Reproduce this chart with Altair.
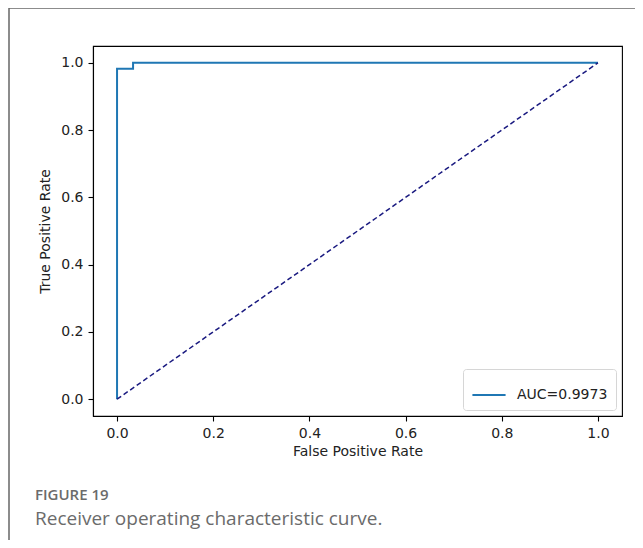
import altair as alt
import pandas as pd

# ROC curve points
fpr = [0.0, 0.0, 0.0333, 0.0333, 1.0]
tpr = [0.0, 0.982, 0.982, 1.0, 1.0]
series_name = "AUC=0.9973"

diag_x = [0.0, 1.0]
diag_y = [0.0, 1.0]

ticks = [0.0, 0.2, 0.4, 0.6, 0.8, 1.0]
fig_label = "FIGURE 19"
fig_caption = "Receiver operating characteristic curve."

roc = pd.DataFrame({"fpr": fpr, "tpr": tpr, "order": list(range(len(fpr))),
                    "series": [series_name] * len(fpr)})
diag = pd.DataFrame({"fpr": diag_x, "tpr": diag_y, "order": [0, 1]})

W, H = 529, 370
xs = alt.Scale(domain=[-0.05, 1.05], nice=False, zero=False)
ys = alt.Scale(domain=[-0.05, 1.05], nice=False, zero=False)

x_axis = alt.Axis(title="False Positive Rate", values=ticks, format=".1f", grid=False)
y_axis = alt.Axis(title="True Positive Rate", values=ticks, format=".1f", grid=False)

curve = alt.Chart(roc).mark_line(strokeWidth=2, interpolate="linear").encode(
    x=alt.X("fpr:Q", scale=xs, axis=x_axis),
    y=alt.Y("tpr:Q", scale=ys, axis=y_axis),
    order="order:Q",
    color=alt.Color("series:N", scale=alt.Scale(domain=[series_name], range=["#1f77b4"]),
                    legend=alt.Legend(title=None, orient="bottom-right", offset=6,
                                      symbolType="stroke", symbolSize=1100,
                                      symbolStrokeWidth=2, labelFontSize=14,
                                      labelFont="DejaVu Sans", labelColor="#222222",
                                      padding=8, strokeColor="#d6d6d6", fillColor="white",
                                      cornerRadius=3, labelOffset=10)),
)

diagonal = alt.Chart(diag).mark_line(strokeWidth=1.5, color="#1a1a80", strokeDash=[5, 3]).encode(
    x=alt.X("fpr:Q", scale=xs),
    y=alt.Y("tpr:Q", scale=ys),
    order="order:Q",
)

cap_df = pd.DataFrame({"label": [fig_label], "caption": [fig_caption]})

label_text = alt.Chart(cap_df).mark_text(align="left", baseline="middle", font="Open Sans",
                                          fontSize=15, fontWeight=600, color="#6b6b6b").encode(
    text="label:N", x=alt.value(-58), y=alt.value(449))
caption_text = alt.Chart(cap_df).mark_text(align="left", baseline="middle", font="Open Sans",
                                            fontSize=19, color="#6b6b6b").encode(
    text="caption:N", x=alt.value(-58), y=alt.value(473))

border_top = alt.Chart(cap_df).mark_rule(color="#666666", strokeWidth=1.5).encode(
    x=alt.value(-84), x2=alt.value(560), y=alt.value(-38))
border_left = alt.Chart(cap_df).mark_rule(color="#666666", strokeWidth=1.5).encode(
    x=alt.value(-84), y=alt.value(-38), y2=alt.value(510))

chart = alt.layer(border_top, border_left, curve, diagonal, label_text, caption_text).properties(
    width=W, height=H,
    autosize=alt.AutoSizeParams(type="none"),
    padding={"left": 85, "top": 38, "right": 13, "bottom": 124},
    background="white",
).configure_view(
    stroke="black", strokeWidth=1.1
).configure_axis(
    domainColor="black", domainWidth=1.1, tickColor="black", tickWidth=1.1, tickSize=5,
    labelFont="DejaVu Sans", labelFontSize=14, labelColor="#222222", labelPadding=5,
    titleFont="DejaVu Sans", titleFontSize=14, titleFontWeight="normal", titleColor="#222222",
).configure_axisX(titlePadding=4).configure_axisY(titlePadding=8)

chart.save("out.html", embed_options={"renderer": "svg", "actions": False})
